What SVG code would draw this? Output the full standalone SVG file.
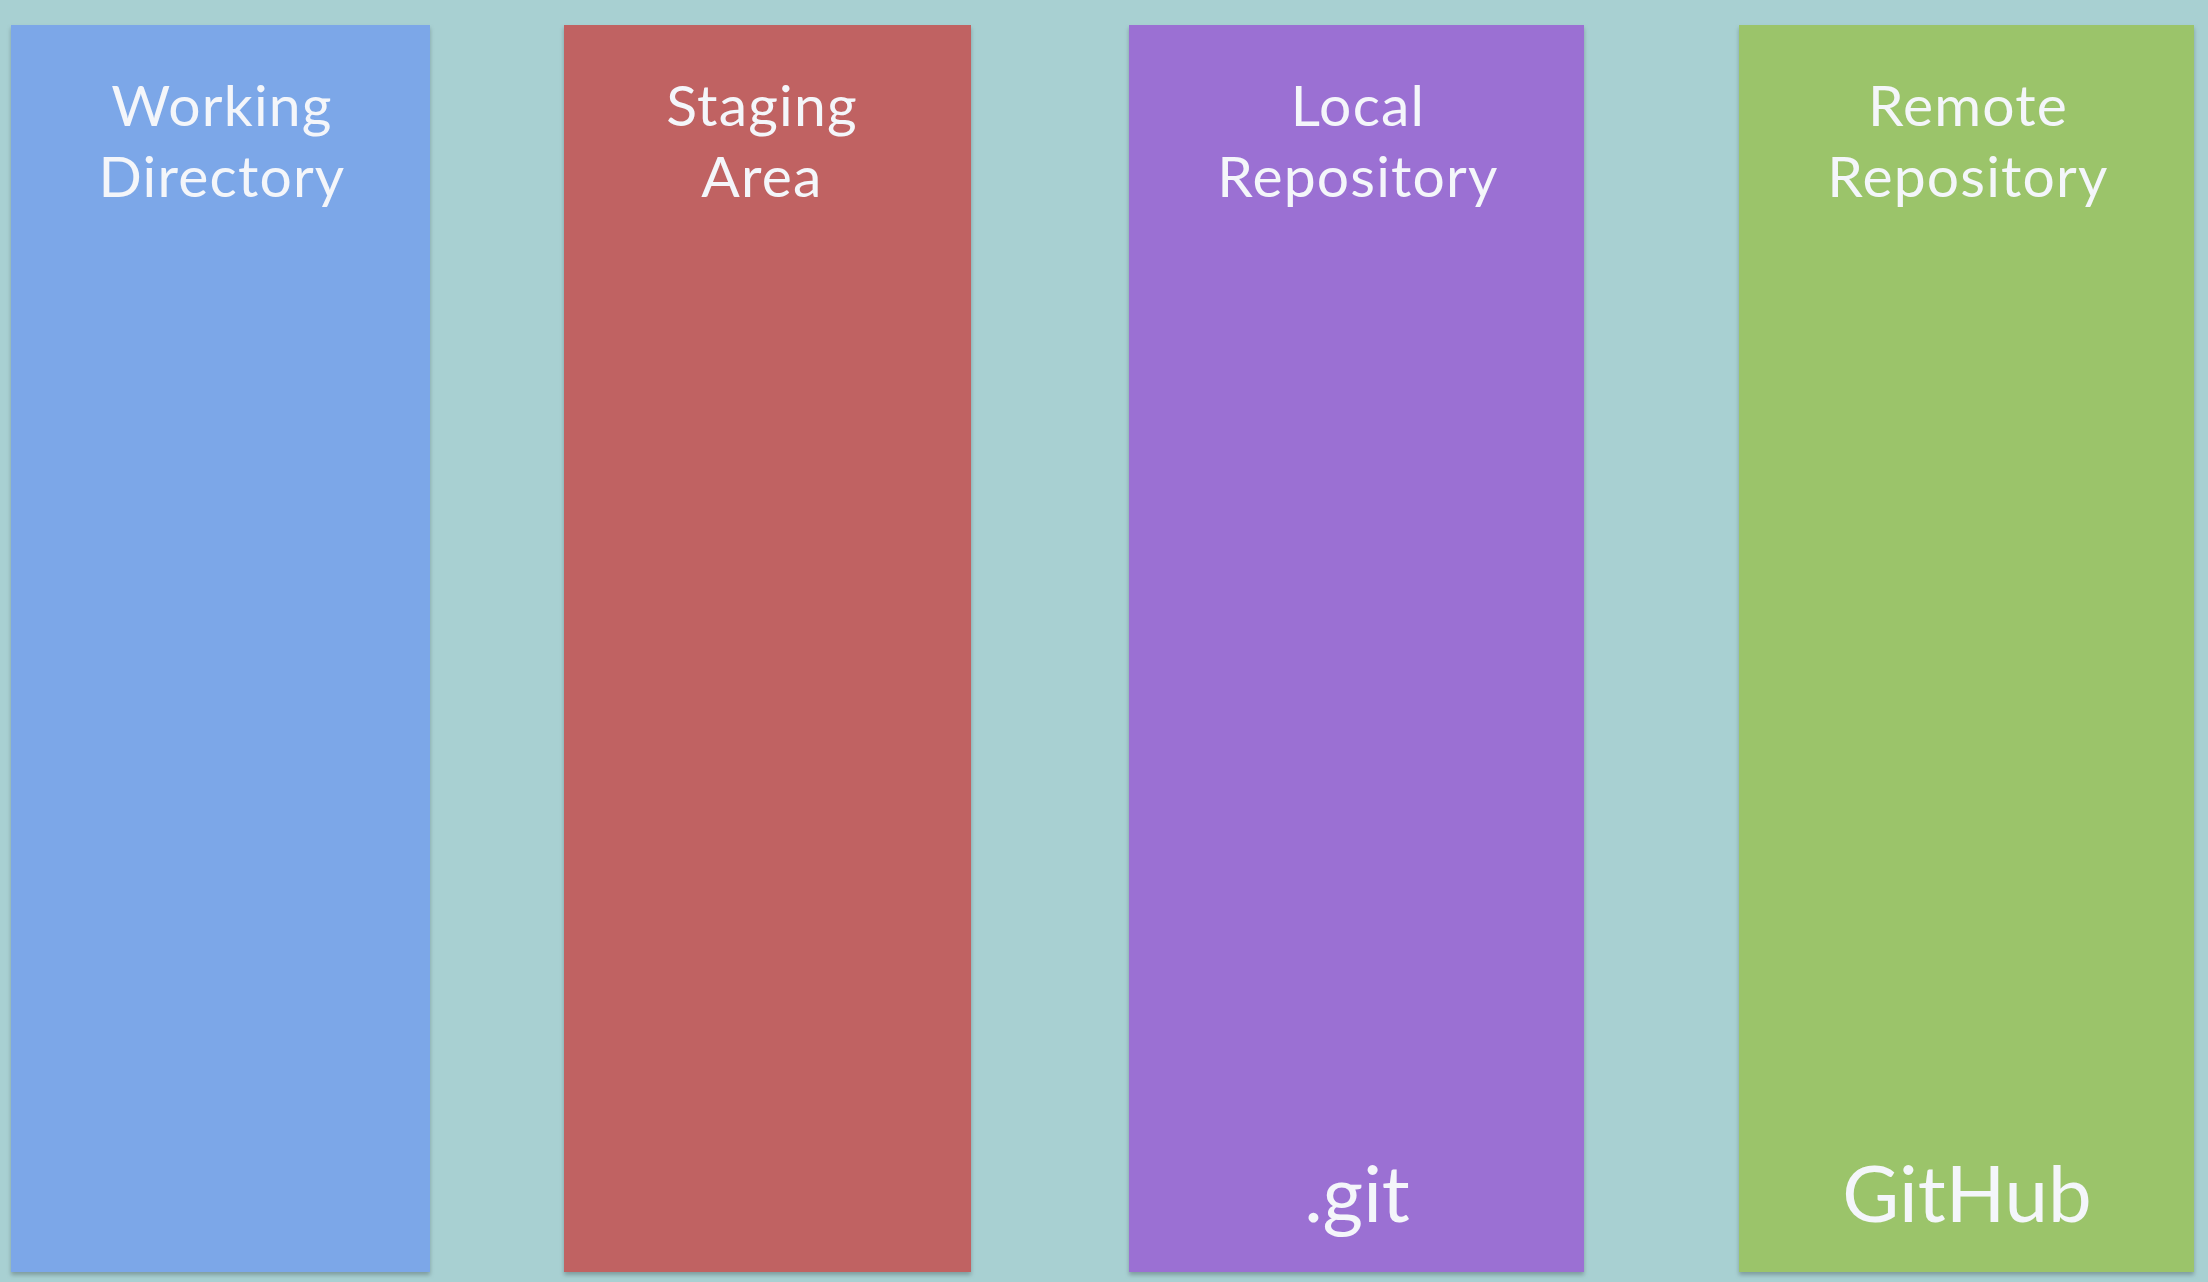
<svg xmlns="http://www.w3.org/2000/svg" width="2208" height="1282" viewBox="0 0 2208 1282">
<defs>
<filter id="sh" x="-5%" y="-5%" width="110%" height="110%">
<feDropShadow dx="0" dy="3" stdDeviation="2" flood-color="#000" flood-opacity="0.25"/>
</filter>
<style>
.col{filter:url(#sh)}
.t{font-family:Lato,"Open Sans","Liberation Sans",sans-serif;font-size:57px;letter-spacing:1.2px;fill:#f4f6fa;text-anchor:middle}
.b{font-family:Lato,"Open Sans","Liberation Sans",sans-serif;font-size:78px;fill:#f4f6fa;text-anchor:middle}
</style>
</defs>
<rect width="2208" height="1282" fill="#a8d0d2"/>
<g id="working-directory">
<rect class="col" x="11" y="25" width="419" height="1247" fill="#7ba7e8"/>
<text class="t" x="222" y="126">Working</text>
<text class="t" x="222" y="197">Directory</text>
</g>
<g id="staging-area">
<rect class="col" x="564" y="25" width="407" height="1247" fill="#c06262"/>
<text class="t" x="762" y="126">Staging</text>
<text class="t" x="762" y="197">Area</text>
</g>
<g id="local-repository">
<rect class="col" x="1129" y="25" width="455" height="1247" fill="#9b6fd3"/>
<text class="t" x="1358" y="126">Local</text>
<text class="t" x="1358" y="197">Repository</text>
<text class="b" x="1357" y="1222">.git</text>
</g>
<g id="remote-repository">
<rect class="col" x="1739" y="25" width="455" height="1247" fill="#9bc46a"/>
<text class="t" x="1968" y="126">Remote</text>
<text class="t" x="1968" y="197">Repository</text>
<text class="b" x="1967" y="1222">GitHub</text>
</g>
<g id="connectors"/>
</svg>
